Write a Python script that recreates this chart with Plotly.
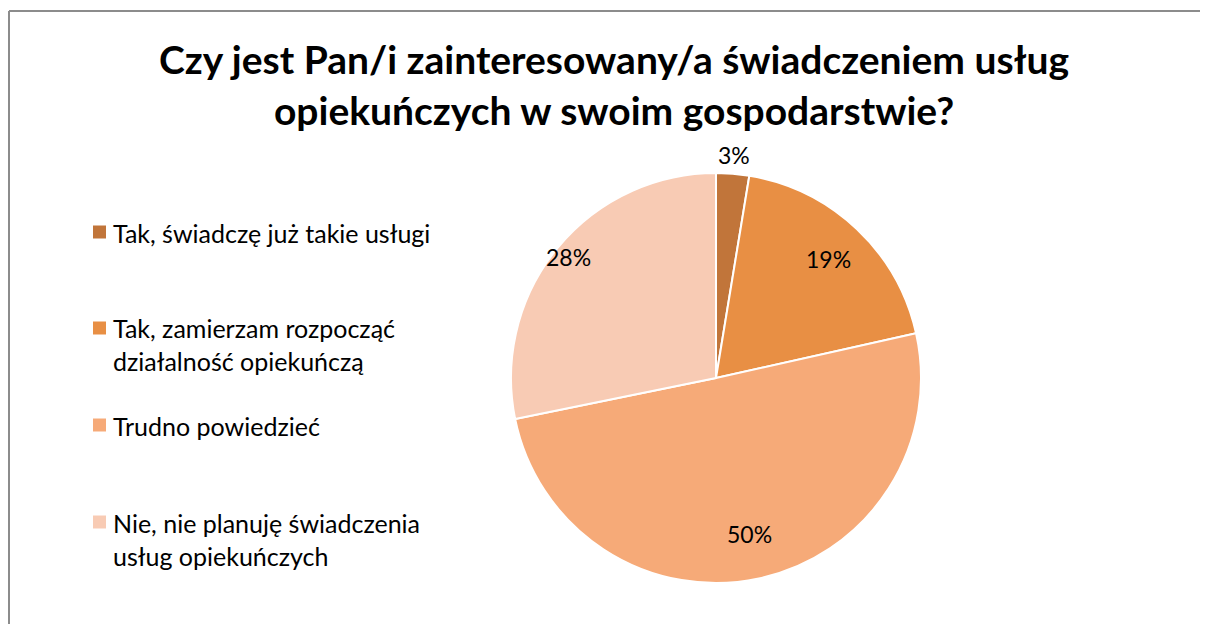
import math
import plotly.graph_objects as go

# Survey answers
labels = [
    "Tak, świadczę już takie usługi",
    "Tak, zamierzam rozpocząć<br>działalność opiekuńczą",
    "Trudno powiedzieć",
    "Nie, nie planuję świadczenia<br>usług opiekuńczych",
]
shares = [2.6, 18.9, 50.3, 28.2]
pct_text = ["3%", "19%", "50%", "28%"]
colors = ["#C1753A", "#E88F44", "#F6AA78", "#F8CBB4"]

title = "Czy jest Pan/i zainteresowany/a świadczeniem usług<br>opiekuńczych w swoim gospodarstwie?"

W, H = 1208, 624
OFF = 8  # page body margin


def px(x):
    return (x - OFF) / W


def py(y):
    return 1 - (y - OFF) / H


cx, cy, r = 716, 378, 205

fig = go.Figure()
fig.add_trace(go.Pie(
    labels=labels,
    values=shares,
    sort=False,
    direction="clockwise",
    rotation=0,
    marker=dict(colors=colors, line=dict(color="white", width=2)),
    textinfo="none",
    hoverinfo="label+percent",
    domain=dict(x=[px(cx - r), px(cx + r)], y=[py(cy + r), py(cy - r)]),
    showlegend=False,
))

# percentage labels, placed around the mid angle of each slice
label_r = [1.09, 0.80, 0.78, 0.93]
total = sum(shares)
cum = 0
for v, t, lr in zip(shares, pct_text, label_r):
    mid = (cum + v / 2) / total * 2 * math.pi
    cum += v
    lx = cx + lr * r * math.sin(mid)
    ly = cy - lr * r * math.cos(mid)
    fig.add_annotation(text=t, xref="paper", yref="paper", x=px(lx), y=py(ly),
                       xanchor="center", yanchor="middle", showarrow=False,
                       font=dict(family="Lato", size=23, color="#000000"))

# hand-made legend (Excel-style spacing)
leg_y = [232, 328, 425, 522]
fsz = 25
for lab, col, y in zip(labels, colors, leg_y):
    fig.add_shape(type="rect", xref="paper", yref="paper",
                  x0=px(93), x1=px(106), y0=py(y + 6.5), y1=py(y - 6.5),
                  fillcolor=col, line=dict(width=0))
    fig.add_annotation(text=lab, xref="paper", yref="paper",
                       x=px(111), y=py(y - 0.66 * fsz), xanchor="left", yanchor="top",
                       align="left", showarrow=False,
                       font=dict(family="Lato", size=fsz, color="#000000"))

# frame lines (top and left)
fig.add_shape(type="line", xref="paper", yref="paper", x0=px(9), x1=1.0, y0=py(11), y1=py(11),
              line=dict(color="#8C8C8C", width=2))
fig.add_shape(type="line", xref="paper", yref="paper", x0=px(9), x1=px(9), y0=0, y1=py(11),
              line=dict(color="#8C8C8C", width=2))

# title
fig.add_annotation(text=title, xref="paper", yref="paper", x=px(614), y=py(84),
                   xanchor="center", yanchor="middle", showarrow=False,
                   font=dict(family="Lato", size=39, color="#000000", weight="bold"))

fig.update_layout(
    width=W, height=H,
    margin=dict(l=0, r=0, t=0, b=0),
    paper_bgcolor="white",
)

fig.write_html("out.html")
